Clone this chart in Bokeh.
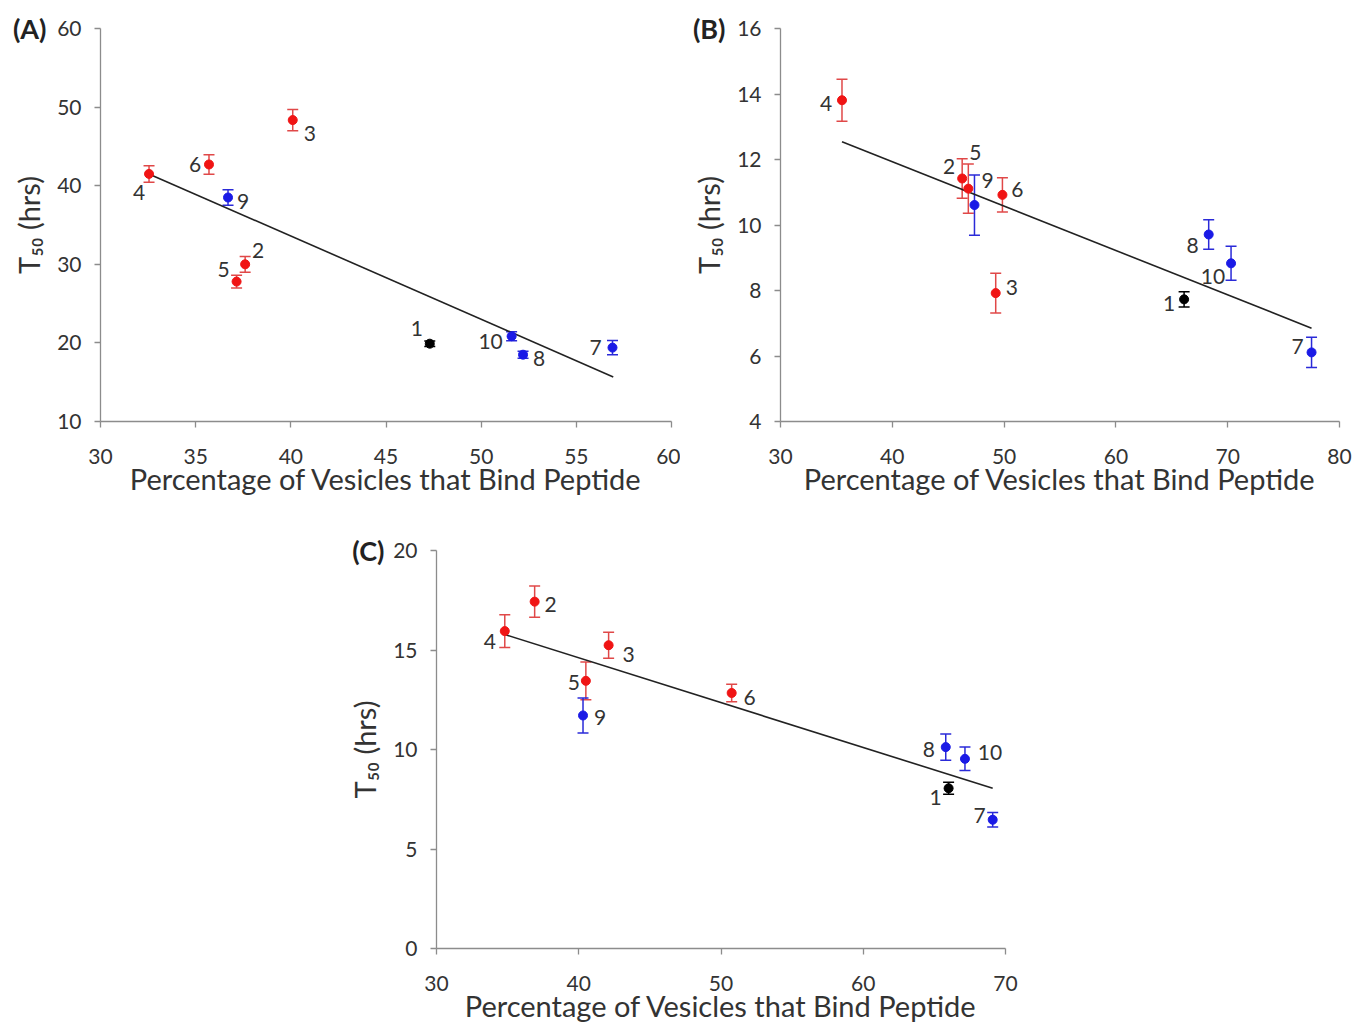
from bokeh.plotting import figure
from bokeh.models import (Range1d, ColumnDataSource, Whisker, TeeHead, LabelSet,
                          FixedTicker, Spacer, LinearAxis)
from bokeh.core.properties import value
from bokeh.layouts import column, row
from bokeh.embed import file_html
from bokeh.resources import INLINE

# ---------------- data ----------------
point_ids = ["1", "2", "3", "4", "5", "6", "7", "8", "9", "10"]
point_group = ["black", "red", "red", "red", "red", "red", "blue", "blue", "blue", "blue"]

A_pct = [47.3, 37.6, 40.1, 32.55, 37.15, 35.7, 56.9, 52.2, 36.7, 51.6]
A_t50 = [19.9, 30.0, 48.35, 41.5, 27.8, 42.7, 19.4, 18.5, 38.5, 20.85]
A_err = [0.35, 1.0, 1.35, 1.05, 0.8, 1.25, 0.9, 0.45, 1.0, 0.57]
A_fit_x = [32.6, 56.94]
A_fit_y = [41.43, 15.67]

B_pct = [66.1, 46.25, 49.25, 35.5, 46.8, 49.85, 77.5, 68.3, 47.35, 70.3]
B_t50 = [7.73, 11.42, 7.92, 13.81, 11.11, 10.92, 6.11, 9.71, 10.61, 8.83]
B_err = [0.23, 0.6, 0.61, 0.64, 0.75, 0.52, 0.46, 0.45, 0.92, 0.52]
B_fit_x = [35.5, 77.5]
B_fit_y = [12.54, 6.85]

C_pct = [66.0, 36.9, 42.1, 34.8, 40.5, 50.75, 69.1, 65.8, 40.3, 67.15]
C_t50 = [8.05, 17.43, 15.24, 15.95, 13.45, 12.84, 6.47, 10.12, 11.71, 9.53]
C_err = [0.3, 0.78, 0.65, 0.82, 0.95, 0.44, 0.36, 0.66, 0.88, 0.59]
C_fit_x = [34.8, 69.1]
C_fit_y = [15.78, 8.05]

x_label = "Percentage of Vesicles that Bind Peptide"
y_label = "T\u2085\u2080 (hrs)"

# ---------------- styles ----------------
FONT = "Lato"
TXT = "#333333"
AXC = "#8c8c8c"
dot_colors = {"black": "#000000", "red": "#f01414", "blue": "#1a1ae6"}
bar_colors = {"black": "#000000", "red": "#e04848", "blue": "#2a2ad8"}

# label offsets in screen px (dx right, dy up)
A_off = [(-13, 15), (13, 14), (17, -13), (-10, -19), (-13, 12), (-14, 0),
         (-17, 0), (16, -4), (15, -4), (-21, -5)]
B_off = [(-15, -4), (-13, 12), (16, 6), (-16, -3), (7, 36), (15, 5),
         (-14, 6), (-16, -11), (13, 25), (-18, -13)]
C_off = [(-13, -9), (16, -3), (20, -9), (-15, -10), (-12, -2), (18, -5),
         (-13, 4), (-17, -2), (17, -2), (25, 6)]


def make_panel(tag, tag_standoff, xs, ys, errs, fx, fy, xr, yr, xt, yt, offs,
               width, height, bl, br, bt, bb):
    p = figure(width=width, height=height, output_backend="svg", toolbar_location=None,
               x_range=Range1d(*xr), y_range=Range1d(*yr),
               min_border_left=bl, min_border_right=br, min_border_top=bt,
               min_border_bottom=bb, background_fill_color="white",
               border_fill_color="white")
    p.outline_line_color = None
    p.grid.visible = False
    p.xaxis.ticker = FixedTicker(ticks=xt)
    p.yaxis.ticker = FixedTicker(ticks=yt)
    for ax in (p.xaxis, p.yaxis):
        ax.axis_line_color = AXC
        ax.axis_line_width = 1.3
        ax.major_tick_line_color = AXC
        ax.major_tick_line_width = 1.3
        ax.major_tick_out = 6
        ax.major_tick_in = 0
        ax.minor_tick_line_color = None
        ax.major_label_text_font = FONT
        ax.major_label_text_font_size = "21px"
        ax.major_label_text_color = TXT
        ax.axis_label_text_font = FONT
        ax.axis_label_text_font_size = "29px"
        ax.axis_label_text_font_style = "normal"
        ax.axis_label_text_color = TXT
    p.xaxis.axis_label = x_label
    p.yaxis.axis_label = y_label
    p.xaxis.major_label_standoff = 21
    p.yaxis.major_label_standoff = 13
    p.xaxis.axis_label_standoff = -6
    p.yaxis.axis_label_standoff = 8

    # regression line
    p.line(fx, fy, line_color="#222222", line_width=1.6)

    # error bars
    for g in ("black", "red", "blue"):
        idx = [i for i, gg in enumerate(point_group) if gg == g]
        src = ColumnDataSource(dict(x=[xs[i] for i in idx],
                                    lower=[ys[i] - errs[i] for i in idx],
                                    upper=[ys[i] + errs[i] for i in idx]))
        c = bar_colors[g]
        w = Whisker(base="x", lower="lower", upper="upper", source=src,
                    line_color=c, line_width=1.5,
                    upper_head=TeeHead(size=11, line_color=c, line_width=1.5),
                    lower_head=TeeHead(size=11, line_color=c, line_width=1.5))
        p.add_layout(w)

    # points
    p.scatter(xs, ys, size=9, color=[dot_colors[g] for g in point_group])

    # point labels
    lsrc = ColumnDataSource(dict(x=xs, y=ys, id=point_ids,
                                 dx=[o[0] for o in offs], dy=[o[1] for o in offs]))
    p.add_layout(LabelSet(x="x", y="y", text="id", x_offset="dx", y_offset="dy",
                          source=lsrc, text_align="center", text_baseline="middle",
                          text_font=value(FONT), text_font_size=value("21px"),
                          text_color=TXT))

    # panel tag: an extra, line-less left axis with a single labelled tick at the top
    top = yr[1]
    tag_axis = LinearAxis(ticker=FixedTicker(ticks=[top]),
                          major_label_overrides={top: tag},
                          axis_line_color=None, major_tick_line_color=None,
                          minor_tick_line_color=None, major_tick_out=0, major_tick_in=0,
                          major_label_standoff=tag_standoff,
                          major_label_text_font=FONT,
                          major_label_text_font_size="27px",
                          major_label_text_font_style="bold",
                          major_label_text_color="#222222")
    p.add_layout(tag_axis, "left")
    return p


pA = make_panel("(A)", -38, A_pct, A_t50, A_err, A_fit_x, A_fit_y,
                (30, 60), (10, 60), [30, 35, 40, 45, 50, 55, 60], [10, 20, 30, 40, 50, 60],
                A_off, 680, 502, 100, 9, 27, 80)
pB = make_panel("(B)", -37, B_pct, B_t50, B_err, B_fit_x, B_fit_y,
                (30, 80), (4, 16), [30, 40, 50, 60, 70, 80], [4, 6, 8, 10, 12, 14, 16],
                B_off, 688, 502, 100, 29, 28, 81)
pC = make_panel("(C)", -40, C_pct, C_t50, C_err, C_fit_x, C_fit_y,
                (30, 70), (0, 20), [30, 40, 50, 60, 70], [0, 5, 10, 15, 20],
                C_off, 699, 526, 100, 30, 48, 80)

layout = column(row(pA, pB), row(Spacer(width=336, height=526), pC))

open("out.html", "w").write(file_html(layout, INLINE))
